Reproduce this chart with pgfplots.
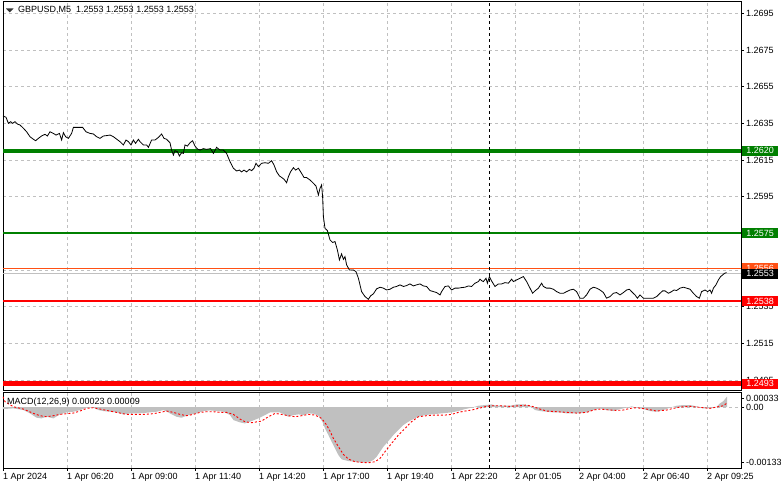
\documentclass[border=0pt]{standalone}
\usepackage{pgfplots}
\pgfplotsset{compat=1.18}
\usepackage{pgfplotstable}
\usepackage{fontspec}
\setmainfont{Liberation Sans}
\definecolor{mtgreen}{RGB}{0,128,0}
\definecolor{mtgrid}{RGB}{192,192,192}
\definecolor{mtorange}{RGB}{255,80,20}
\definecolor{mtred}{RGB}{255,0,0}

\pgfplotstableread{
bar price
0 1.26390
1.5 1.26383
2.7 1.26350
3.8 1.26359
4.8 1.26350
6 1.26359
7.2 1.26346
8.5 1.26341
10.2 1.26323
11.8 1.26304
13.5 1.26277
15.2 1.26263
16.3 1.26255
17.7 1.26268
19.3 1.26281
21 1.26290
22.2 1.26281
23.5 1.26304
25.2 1.26295
26.5 1.26286
28.2 1.26295
29.3 1.26259
30.2 1.26299
31.3 1.26277
32.7 1.26268
34.3 1.26295
35.2 1.26328
37.7 1.26328
39.8 1.26328
41.5 1.26304
43.5 1.26295
45.2 1.26292
46.8 1.26277
48.5 1.26268
50.2 1.26281
51.8 1.26283
53.5 1.26286
55.2 1.26277
56.8 1.26264
58.5 1.26250
60.2 1.26232
61.5 1.26259
62.7 1.26250
64 1.26232
65.2 1.26259
66.3 1.26241
67.7 1.26263
68.5 1.26250
70.2 1.26232
71.8 1.26232
72.7 1.26219
74.3 1.26259
76 1.26259
77.7 1.26273
79.3 1.26292
80.5 1.26268
81.8 1.26263
83.5 1.26244
84.3 1.26204
85.2 1.26177
86 1.26201
87.2 1.26195
88.2 1.26172
89.3 1.26190
90.2 1.26186
91 1.26232
92.2 1.26226
93.5 1.26244
94.8 1.26255
96 1.26226
97.2 1.26210
98.5 1.26204
100.2 1.26212
101.8 1.26208
103.8 1.26212
105.2 1.26186
106.8 1.26219
108.5 1.26204
110.2 1.26204
111.8 1.26186
113.5 1.26141
115.2 1.26105
116.8 1.26090
118.2 1.26095
119.3 1.26085
120.5 1.26095
121.8 1.26085
123.2 1.26099
124.3 1.26092
125.5 1.26105
126.5 1.26132
127.7 1.26114
129.3 1.26132
131 1.26135
132.7 1.26132
134.3 1.26146
135.5 1.26123
136.8 1.26086
138.2 1.26063
139.3 1.26055
140.5 1.26045
141.8 1.26026
142.7 1.26059
143.8 1.26086
145.2 1.26108
146.3 1.26095
147.7 1.26105
149.3 1.26077
150.5 1.26055
151.8 1.26054
153.5 1.26041
155.2 1.26023
156.5 1.26008
157.7 1.25959
158.5 1.25996
159.3 1.26014
159.8 1.25950
160.2 1.25841
161 1.25777
162.2 1.25765
163.5 1.25714
164.8 1.25700
166 1.25705
167.2 1.25659
168.2 1.25605
169.3 1.25638
170.2 1.25608
171 1.25623
171.8 1.25578
173.2 1.25550
175.2 1.25550
176.5 1.25541
177.7 1.25505
179.3 1.25432
181 1.25405
182.7 1.25390
183.8 1.25409
185.2 1.25420
186.8 1.25447
188.5 1.25456
190.2 1.25451
191.8 1.25441
193.5 1.25445
195.2 1.25456
196.8 1.25460
198.5 1.25469
200.2 1.25460
201.8 1.25465
203.5 1.25474
205.2 1.25463
206.8 1.25469
208.5 1.25474
210.2 1.25463
211.8 1.25460
213.5 1.25438
215.2 1.25432
216.8 1.25427
218.5 1.25414
219.3 1.25432
221 1.25460
222.7 1.25463
224.3 1.25441
226 1.25451
227.7 1.25451
229.3 1.25454
231 1.25456
232.7 1.25463
234.3 1.25460
236 1.25478
237.7 1.25487
238.5 1.25500
239.3 1.25492
240.2 1.25487
241.5 1.25505
242.2 1.25478
243.2 1.25514
244 1.25496
245.2 1.25474
246 1.25460
247.7 1.25474
249.3 1.25474
251 1.25481
252.7 1.25478
254.3 1.25500
255.2 1.25487
256.8 1.25496
258.5 1.25505
260.2 1.25514
261.8 1.25487
263.5 1.25451
264.8 1.25423
266 1.25436
267.7 1.25451
269.3 1.25478
270.2 1.25460
271.8 1.25451
273.5 1.25451
275.2 1.25445
276.8 1.25432
278.5 1.25423
280.2 1.25423
281.8 1.25432
283.5 1.25441
285.2 1.25445
286.8 1.25432
288.5 1.25396
290.2 1.25396
291.8 1.25414
293.5 1.25445
295.2 1.25456
296.8 1.25451
298.5 1.25441
300.2 1.25427
301.8 1.25396
303.5 1.25405
305.2 1.25423
306.8 1.25427
308.5 1.25414
310.2 1.25427
311.8 1.25441
313.2 1.25445
314.3 1.25432
316 1.25414
317.2 1.25396
318.5 1.25414
320.2 1.25396
321.8 1.25396
323.5 1.25396
325.2 1.25396
326.8 1.25405
328.5 1.25423
329.8 1.25436
331 1.25436
332.7 1.25423
334.3 1.25432
335.5 1.25441
336.8 1.25438
338.5 1.25451
340.2 1.25456
341.8 1.25451
343.5 1.25445
345.2 1.25423
346.8 1.25405
348.2 1.25396
349.3 1.25432
351 1.25441
352.3 1.25432
353.5 1.25441
354.3 1.25423
355.2 1.25451
356.5 1.25469
357.7 1.25496
358.8 1.25514
359.8 1.25523
360.8 1.25532
361.8 1.25536
}\pricetable

\pgfplotstableread{
bar hist
0 -0.000043
5.2 -0.000028
10.2 -0.000064
13.5 -0.000137
16.8 -0.000232
19.3 -0.000246
21.8 -0.000210
25.2 -0.000246
28.5 -0.000159
31.8 -0.000115
35.2 -0.000101
38.5 -0.000064
41.8 -0.000013
45.2 -0.000013
47.7 -0.000064
50.2 -0.000086
53.5 -0.000101
56.8 -0.000115
60.2 -0.000159
63.5 -0.000137
66.8 -0.000137
70.2 -0.000130
73.5 -0.000115
76.8 -0.000101
80.2 -0.000064
83.5 -0.000137
86.8 -0.000210
89.3 -0.000232
91.8 -0.000188
94.3 -0.000159
96.8 -0.000137
100.2 -0.000086
103.5 -0.000072
106.8 -0.000086
110.2 -0.000101
113.5 -0.000174
115.2 -0.000283
118.5 -0.000334
121 -0.000356
124.3 -0.000305
127.7 -0.000246
131 -0.000174
133.5 -0.000115
136 -0.000115
138.5 -0.000115
141 -0.000174
142.7 -0.000210
145.2 -0.000174
147.7 -0.000159
150.2 -0.000174
152.7 -0.000137
155.2 -0.000144
157.7 -0.000188
159.7 -0.000319
161 -0.000465
162.7 -0.000610
164.3 -0.000756
166 -0.000902
167.7 -0.001047
169.3 -0.001142
172.7 -0.001178
176 -0.001193
179.3 -0.001215
182.7 -0.001207
185.2 -0.001156
186.8 -0.001084
188.5 -0.000974
190.2 -0.000865
192.7 -0.000741
195.2 -0.000610
197.7 -0.000501
200.2 -0.000392
202.7 -0.000319
205.2 -0.000261
207.7 -0.000210
211 -0.000174
214.3 -0.000159
217.7 -0.000144
221 -0.000130
224.3 -0.000115
227.7 -0.000086
231 -0.000043
234.3 -0.000013
237.7 0.000030
241 0.000045
244.3 0.000059
246.8 0.000030
250.2 0.000030
253.5 0.000030
256.8 0.000059
260.2 0.000059
263.5 0.000030
266 -0.000064
268.5 -0.000086
271.8 -0.000101
275.2 -0.000115
278.5 -0.000115
281.8 -0.000137
285.2 -0.000137
288.5 -0.000137
291.8 -0.000115
295.2 -0.000064
298.5 -0.000028
301.8 -0.000064
305.2 -0.000086
308.5 -0.000043
311.8 -0.000013
314.3 0.000016
316.8 -0.000013
320.2 -0.000043
323.5 -0.000086
326.8 -0.000101
330.2 -0.000064
333.5 -0.000013
336.8 0.000030
340.2 0.000045
343.5 0.000045
346.8 0.000016
350.2 -0.000028
353.5 -0.000028
356.8 0.000008
358.5 0.000081
360.2 0.000132
362 0.000230
}\histtable

\pgfplotstableread{
bar signal
0 0.000227
1 0.000118
5.2 0.000008
10.2 -0.000043
15.2 -0.000137
18.5 -0.000188
21.8 -0.000210
25.2 -0.000188
28.5 -0.000159
31.8 -0.000144
35.2 -0.000130
38.5 -0.000086
41.8 -0.000028
45.2 -0.000013
48.5 -0.000043
51.8 -0.000072
55.2 -0.000101
58.5 -0.000130
61.8 -0.000159
65.2 -0.000159
70.2 -0.000159
75.2 -0.000144
78.5 -0.000115
81.8 -0.000086
85.2 -0.000115
88.5 -0.000159
91.8 -0.000188
95.2 -0.000159
98.5 -0.000115
101.8 -0.000101
105.2 -0.000101
108.5 -0.000115
111.8 -0.000115
115.2 -0.000159
118.5 -0.000261
121 -0.000319
124.3 -0.000341
129.3 -0.000305
132.7 -0.000210
136 -0.000137
139.3 -0.000159
142.7 -0.000188
146 -0.000210
149.3 -0.000188
152.7 -0.000159
156 -0.000174
159.3 -0.000246
161.8 -0.000392
163.5 -0.000523
165.2 -0.000683
167.7 -0.000865
170.2 -0.001033
172.7 -0.001135
176 -0.001193
179.3 -0.001207
182.7 -0.001215
186 -0.001193
188.5 -0.001120
191 -0.000974
194.3 -0.000792
197.7 -0.000610
201 -0.000465
204.3 -0.000319
207.7 -0.000210
211.8 -0.000188
216 -0.000174
221 -0.000174
224.3 -0.000159
227.7 -0.000115
231 -0.000086
234.3 -0.000064
237.7 -0.000028
241 0.000008
244.3 0.000030
248.5 0.000030
253.5 0.000016
258.5 0.000030
261.8 0.000045
265.2 0.000008
268.5 -0.000043
271.8 -0.000086
276.8 -0.000101
281.8 -0.000115
286.8 -0.000130
291.8 -0.000115
295.2 -0.000064
298.5 -0.000043
301.8 -0.000057
306.8 -0.000072
310.2 -0.000064
313.5 -0.000028
316.8 -0.000013
321.8 -0.000043
326.8 -0.000086
331.8 -0.000064
335.2 -0.000028
338.5 0.000001
343.5 0.000016
346.8 0.000001
350.2 -0.000013
353.5 -0.000028
356.8 0.000001
360.2 0.000030
362 0.000090
}\signaltable

\begin{document}
\fontsize{9}{10}\selectfont
\begin{tikzpicture}
\useasboundingbox (0pt,0pt) rectangle (781pt,489pt);
% ---------------- main price panel ----------------
\begin{axis}[
  at={(3pt,99pt)}, anchor=south west,
  width=738pt, height=389pt, scale only axis,
  xmin=0, xmax=369,
  ymin=1.248954, ymax=1.270173,
  clip mode=individual,
  axis line style={black, line width=0.8pt},
  xtick={0,32,...,352}, xticklabels={},
  major x tick style={draw=none},
  ytick={1.2495,1.2515,1.2535,1.2555,1.2575,1.2595,1.2615,1.2635,1.2655,1.2675,1.2695},
  ytick pos=right, yticklabel pos=right,
  tick align=outside, major tick length=3pt,
  major tick style={black, line width=0.6pt},
  grid=major,
  major grid style={mtgrid, dash pattern=on 3pt off 3pt, line width=0.6pt},
  scaled y ticks=false,
  yticklabel style={font=\fontsize{9}{10}\selectfont, inner xsep=2pt,
    /pgf/number format/.cd, fixed, fixed zerofill, precision=4, assume math mode=true},
]
\addplot[mtred, line width=4.5pt, forget plot] coordinates {(0,1.2493) (369,1.2493)};
\addplot[mtred, line width=2pt, forget plot] coordinates {(0,1.2538) (369,1.2538)};
\addplot[mtgrid, line width=0.8pt, forget plot] coordinates {(0,1.2553) (369,1.2553)};
\addplot[mtorange, line width=1pt, forget plot] coordinates {(0,1.2556) (369,1.2556)};
\addplot[mtgreen, line width=2pt, forget plot] coordinates {(0,1.2575) (369,1.2575)};
\addplot[mtgreen, line width=4.5pt, forget plot] coordinates {(0,1.2620) (369,1.2620)};
\addplot[black, line width=0.8pt, dash pattern=on 3pt off 3pt, forget plot] coordinates {(243,1.248954) (243,1.270173)};
\addplot[black, line width=0.8pt] table[x=bar, y=price] {\pricetable};
\coordinate (L2620) at (axis cs:369,1.2620);
\coordinate (L2575) at (axis cs:369,1.2575);
\coordinate (L2556) at (axis cs:369,1.2556);
\coordinate (L2553) at (axis cs:369,1.2553);
\coordinate (L2538) at (axis cs:369,1.2538);
\coordinate (L2493) at (axis cs:369,1.2493);
\end{axis}
% level label boxes
\tikzset{lvl/.style={anchor=west, minimum width=36pt, minimum height=10pt, inner sep=0pt, text=white, font=\fontsize{9}{10}\selectfont, xshift=1pt}}
\node[lvl, fill=mtgreen] at (L2620) {1.2620};
\node[lvl, fill=mtgreen] at (L2575) {1.2575};
\node[lvl, fill=mtorange] at (L2556) {1.2556};
\node[lvl, fill=black] at (L2553) {1.2553};
\node[lvl, fill=mtred] at (L2538) {1.2538};
\node[lvl, fill=mtred] at (L2493) {1.2493};
% title
\fill[black!80] (6pt,480.5pt) -- (13.5pt,480.5pt) -- (9.75pt,476.5pt) -- cycle;
\node[anchor=west, inner sep=0pt] at (18pt,479pt) {GBPUSD,M5\ \ 1.2553 1.2553 1.2553 1.2553};
% ---------------- MACD panel ----------------
\begin{axis}[
  at={(3pt,21pt)}, anchor=south west,
  width=738pt, height=76pt, scale only axis,
  xmin=0, xmax=369,
  ymin=-0.00133, ymax=0.00033,
  clip mode=individual,
  axis line style={black, line width=0.8pt},
  xtick={0,32,...,352},
  xticklabels={1 Apr 2024,1 Apr 06:20,1 Apr 09:00,1 Apr 11:40,1 Apr 14:20,1 Apr 17:00,1 Apr 19:40,1 Apr 22:20,2 Apr 01:05,2 Apr 04:00,2 Apr 06:40,2 Apr 09:25},
  xtick pos=bottom,
  xticklabel style={anchor=north west, inner xsep=0pt, inner ysep=2pt, font=\fontsize{9}{10}\selectfont},
  ytick={0.0002,0,-0.0012},
  yticklabels={0.00033,0.00,-0.00133},
  scaled y ticks=false,
  ytick pos=right, yticklabel pos=right,
  yticklabel style={font=\fontsize{9}{10}\selectfont, inner xsep=2pt},
  tick align=outside, major tick length=3pt,
  major tick style={black, line width=0.6pt},
  xmajorgrids,
  major grid style={mtgrid, dash pattern=on 3pt off 3pt, line width=0.6pt},
]
\addplot[mtgrid, line width=0.6pt, dash pattern=on 3pt off 3pt, forget plot] coordinates {(0,0) (369,0)};
\addplot[fill=mtgrid, draw=none] table[x=bar, y=hist] {\histtable} \closedcycle;
\addplot[black, line width=0.8pt, dash pattern=on 3pt off 3pt, forget plot] coordinates {(243,-0.00133) (243,0.00033)};
\addplot[mtred, line width=0.9pt, dash pattern=on 2pt off 2pt] table[x=bar, y=signal] {\signaltable};
\end{axis}
\node[anchor=west, inner sep=0pt] at (7pt,87pt) {MACD(12,26,9) 0.00023 0.00009};
\end{tikzpicture}
\end{document}
